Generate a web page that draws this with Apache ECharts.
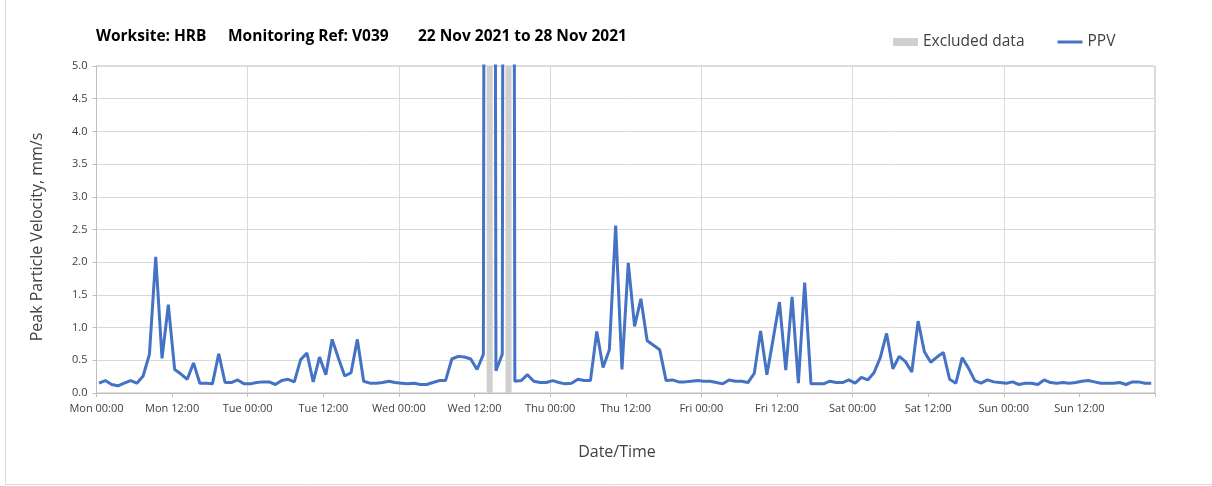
<!DOCTYPE html>
<html>
<head>
<meta charset="utf-8">
<script src="https://cdn.jsdelivr.net/npm/echarts@6/dist/echarts.min.js"></script>
<style>
  html, body { margin: 0; padding: 0; background: #ffffff; }
  #chart { width: 1212px; height: 486px; }
</style>
</head>
<body>
<div id="chart"></div>
<script>
// ---- Data (hourly PPV samples, mm/s, starting Mon 22 Nov 2021 00:00) ----
const titleParts = ['Worksite: HRB', 'Monitoring Ref: V039', '22 Nov 2021 to 28 Nov 2021'];
const yAxisTitle = 'Peak Particle Velocity, mm/s';
const xAxisTitle = 'Date/Time';
const dayNames = ['Mon', 'Tue', 'Wed', 'Thu', 'Fri', 'Sat', 'Sun'];
const sampleOffsetHours = 0.4; // sample time within each hour
const mon = [0.15,0.19,0.13,0.11,0.15,0.19,0.15,0.26,0.59,2.08,0.53,1.35,0.36,0.29,0.21,0.46,0.15,0.15,0.14,0.60,0.16,0.16,0.20,0.14];
const tue = [0.14,0.16,0.17,0.17,0.13,0.19,0.21,0.17,0.51,0.61,0.17,0.55,0.28,0.82,0.53,0.26,0.31,0.82,0.18,0.15,0.15,0.16,0.18,0.16];
const wed = [0.15,0.14,0.15,0.13,0.13,0.16,0.19,0.19,0.52,0.56,0.55,0.52,0.36,0.59,60,0.34,0.59,60,0.18,0.19,0.28,0.18,0.16,0.16];
const thu = [0.19,0.16,0.14,0.15,0.21,0.19,0.19,0.94,0.39,0.66,2.56,0.36,1.99,1.02,1.44,0.80,0.73,0.66,0.19,0.20,0.17,0.17,0.18,0.19];
const fri = [0.18,0.18,0.16,0.14,0.20,0.18,0.18,0.16,0.30,0.95,0.28,0.83,1.39,0.35,1.47,0.15,1.69,0.14,0.14,0.14,0.18,0.16,0.16,0.20];
const sat = [0.15,0.24,0.20,0.31,0.54,0.91,0.37,0.56,0.48,0.32,1.10,0.63,0.47,0.55,0.62,0.21,0.15,0.54,0.38,0.19,0.15,0.20,0.17,0.16];
const sun = [0.15,0.17,0.13,0.15,0.15,0.13,0.20,0.16,0.15,0.16,0.15,0.16,0.18,0.19,0.17,0.15,0.15,0.15,0.16,0.13,0.17,0.17,0.15,0.15];
const excludedSamples = [62, 65]; // sample indices flagged as excluded
const yMin = 0, yMax = 5, yStep = 0.5;
const xMin = 0, xMax = 168, xStep = 12;

// ---- Build series ----
const ppv = [].concat(mon, tue, wed, thu, fri, sat, sun);
const ppvData = ppv.map((v, i) => [i + sampleOffsetHours, v]);
const excludedData = excludedSamples.map(i => [i + sampleOffsetHours, yMax]);

const FONT = "'Open Sans', 'Noto Sans', sans-serif";
const chart = echarts.init(document.getElementById('chart'), null, { renderer: 'canvas' });

chart.setOption({
  animation: false,
  backgroundColor: '#ffffff',
  textStyle: { fontFamily: FONT },
  graphic: [
    { type: 'rect', shape: { x: 5.5, y: -5, width: 1212, height: 489.5 }, style: { fill: 'none', stroke: '#d9d9d9', lineWidth: 1 }, silent: true },
    { type: 'text', left: 96, top: 29, style: { text: titleParts[0], font: "bold 15.5px " + FONT, fill: '#000000' } },
    { type: 'text', left: 228, top: 29, style: { text: titleParts[1], font: "bold 15.5px " + FONT, fill: '#000000' } },
    { type: 'text', left: 418, top: 29, style: { text: titleParts[2], font: "bold 15.5px " + FONT, fill: '#000000' } },
    { type: 'text', x: 37, y: 237, rotation: Math.PI / 2,
      style: { text: yAxisTitle, font: "16px " + FONT, fill: '#404040', align: 'center', verticalAlign: 'middle' } },
    { type: 'text', x: 617, y: 452,
      style: { text: xAxisTitle, font: "16px " + FONT, fill: '#404040', align: 'center', verticalAlign: 'middle' } }
  ],
  legend: {
    left: 888, top: 29,
    itemWidth: 25, itemHeight: 8, itemGap: 33,
    textStyle: { fontSize: 15.5, color: '#404040', fontFamily: FONT },
    data: [
      { name: 'Excluded data', icon: 'rect' },
      { name: 'PPV', icon: 'path://M0 0 L25 0 L25 3 L0 3 Z' }
    ]
  },
  grid: {
    left: 96.5, right: 57, top: 66, bottom: 93,
    show: true, borderColor: '#bfbfbf', borderWidth: 1, backgroundColor: 'transparent'
  },
  xAxis: {
    type: 'value', min: xMin, max: xMax, interval: xStep,
    axisLine: { show: true, lineStyle: { color: '#bfbfbf', width: 1 } },
    axisTick: { show: true, length: 4, lineStyle: { color: '#bfbfbf' } },
    axisLabel: {
      margin: 10, fontSize: 11, color: '#404040', fontFamily: FONT,
      formatter: function (v) {
        if (v >= xMax) return '';
        const d = dayNames[Math.floor(v / 24)];
        const h = v % 24;
        return d + ' ' + (h < 10 ? '0' + h : h) + ':00';
      }
    },
    splitLine: { show: true, lineStyle: { color: ['#d9d9d9', 'rgba(0,0,0,0)'], width: 1 } }
  },
  yAxis: {
    type: 'value', min: yMin, max: yMax, interval: yStep,
    axisLine: { show: true, lineStyle: { color: '#bfbfbf', width: 1 } },
    axisTick: { show: true, length: 4, lineStyle: { color: '#bfbfbf' } },
    axisLabel: { margin: 9, fontSize: 11, color: '#404040', fontFamily: FONT, formatter: v => v.toFixed(1) },
    splitLine: { show: true, lineStyle: { color: '#d9d9d9', width: 1 } }
  },
  series: [
    {
      name: 'Excluded data', type: 'bar', data: excludedData,
      barWidth: 6, itemStyle: { color: '#d0d0d0' }, z: 1, silent: true
    },
    {
      name: 'PPV', type: 'line', data: ppvData,
      symbol: 'none', showSymbol: false, clip: true,
      lineStyle: { color: '#4472C4', width: 3 }, itemStyle: { color: '#4472C4' }, z: 3
    }
  ]
});
</script>
</body>
</html>
